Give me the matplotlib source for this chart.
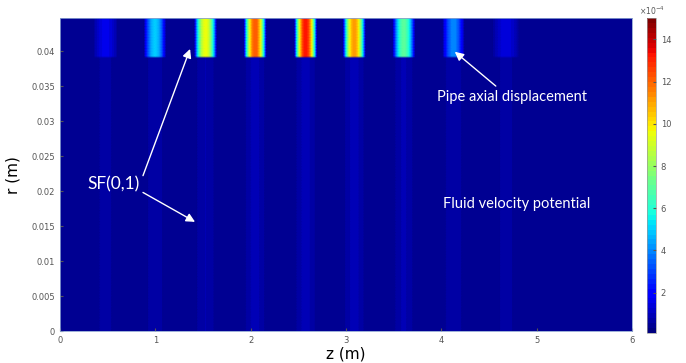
import numpy as np
import matplotlib
matplotlib.use('Agg')
import matplotlib.pyplot as plt
from matplotlib.colors import ListedColormap

# wave packet peaks along the pipe (z in m), amplitudes in units of 1e-4
peak_z = [0.48, 1.00, 1.53, 2.05, 2.58, 3.09, 3.61, 4.13, 4.68]
pipe_peak = [1.6, 5.0, 9.6, 12.2, 13.3, 11.2, 7.0, 4.0, 1.4]
peak_halfwidth = [0.15, 0.12, 0.12, 0.12, 0.12, 0.12, 0.12, 0.12, 0.17]
fluid_peak = [0.15, 0.2, 0.3, 0.45, 0.45, 0.45, 0.35, 0.25, 0.15]
background = 0.5

z_max = 6.0
r_fluid = 0.0391   # inner radius (fluid / pipe boundary)
r_pipe = 0.0447    # outer radius

ytick_vals = [0, 0.005, 0.01, 0.015, 0.02, 0.025, 0.03, 0.035, 0.04]
ytick_labels = ['0', '0.005', '0.01', '0.015', '0.02', '0.025', '0.03', '0.035', '0.04']
cbar_ticks = [2, 4, 6, 8, 10, 12, 14]

# build the field on a z-r grid
z = np.linspace(0, z_max, 1500)
r = np.linspace(0, r_pipe, 200)
pipe_line = np.zeros_like(z)
fluid_line = np.full_like(z, background)
for zc, a_p, hw, a_f in zip(peak_z, pipe_peak, peak_halfwidth, fluid_peak):
    u = np.clip(np.abs(z - zc) / hw, 0, 1)
    pipe_line += a_p * np.cos(0.5 * np.pi * u) ** 0.8
    fluid_line += a_f * np.exp(-((z - zc) / 0.07) ** 2)
pipe_line = np.maximum(pipe_line, background)

field = np.where(r[:, None] >= r_fluid, pipe_line[None, :], fluid_line[None, :])

cmap = ListedColormap(plt.get_cmap('jet')(np.linspace(0, 1, 64)))

fig = plt.figure(figsize=(6.86, 3.63), dpi=100)
ax = fig.add_axes([0.0875, 0.088, 0.834, 0.862])
cax = fig.add_axes([0.943, 0.083, 0.013, 0.867])

mesh = ax.pcolormesh(z, r, field, cmap=cmap, vmin=0.1, vmax=15, shading='gouraud')
ax.set_xlim(0, z_max)
ax.set_ylim(0, r_pipe)

ax.set_yticks(ytick_vals)
ax.set_yticklabels(ytick_labels)
ax.set_xticks(range(0, 7))
ax.tick_params(direction='in', length=2, labelsize=6, colors='#555555', labelcolor='#555555')
for sp in ax.spines.values():
    sp.set_color('#8aa0d0')
    sp.set_linewidth(0.6)

ax.set_xlabel('z (m)', fontsize=11, labelpad=1)
ax.set_ylabel('r (m)', fontsize=11, labelpad=8)

cb = fig.colorbar(mesh, cax=cax, ticks=cbar_ticks)
cb.ax.tick_params(direction='in', length=2, labelsize=6, colors='#555555', labelcolor='#555555')
cb.outline.set_edgecolor('#999999')
cb.outline.set_linewidth(0.5)
cax.text(0.5, 1.005, r'$\times10^{-4}$', transform=cax.transAxes, fontsize=5.5,
         color='#555555', ha='center', va='bottom')

# annotations
font = dict(family=['Lato', 'DejaVu Sans'], color='white')
ax.text(0.566, 0.0209, 'SF(0,1)', fontsize=12.5, ha='center', va='center', **font)
ax.text(4.74, 0.0334, 'Pipe axial displacement', fontsize=10.5, ha='center', va='center', **font)
ax.text(4.79, 0.0182, 'Fluid velocity potential', fontsize=10.5, ha='center', va='center', **font)

arrow = dict(arrowstyle='-|>', color='white', lw=1.0, mutation_scale=13, shrinkA=0, shrinkB=0)
ax.annotate('', xy=(1.364, 0.0403), xytext=(0.87, 0.0222), arrowprops=arrow)
ax.annotate('', xy=(1.416, 0.0156), xytext=(0.87, 0.0198), arrowprops=arrow)
ax.annotate('', xy=(4.14, 0.0399), xytext=(4.57, 0.0350), arrowprops=arrow)

fig.savefig('out.png', dpi=100)
